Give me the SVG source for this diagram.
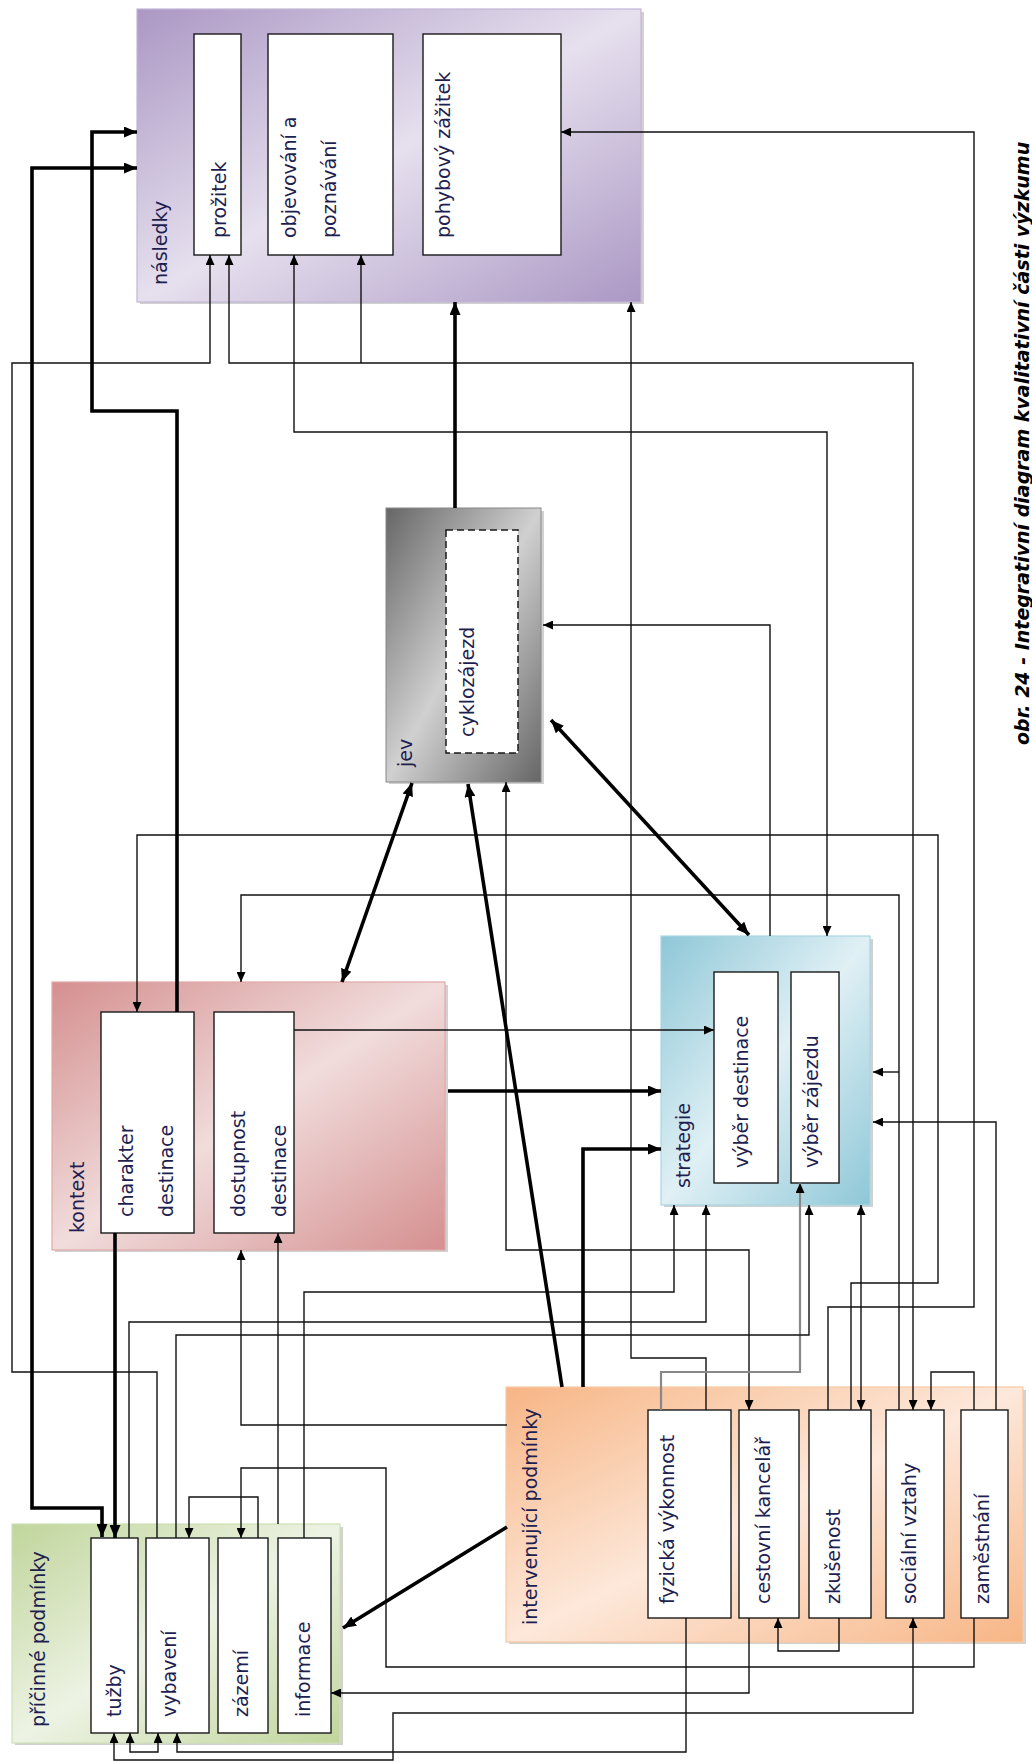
<svg xmlns="http://www.w3.org/2000/svg" width="1032" height="1762" viewBox="0 0 1032 1762">
<style>
.lbl{font-family:"DejaVu Sans","Verdana",sans-serif;font-size:19px;fill:#1e1e50}
.cap{font-family:"DejaVu Sans","Verdana",sans-serif;font-size:19px;font-weight:bold;font-style:italic;fill:#000}
.inner{fill:#fff;stroke:#1a1a1a;stroke-width:1.4}
.dash{fill:#fff;stroke:#1a1a1a;stroke-width:1.5;stroke-dasharray:7 4}
.sh{fill:#000;opacity:0.18}
.thin{fill:none;stroke:#111;stroke-width:1.4}
.thick{fill:none;stroke:#000;stroke-width:3.6}
.gray{fill:none;stroke:#888;stroke-width:2.2}
</style>
<defs>
<linearGradient id="gPur" x1="0" y1="0" x2="1" y2="1"><stop offset="0" stop-color="#ab97c4"/><stop offset="0.5" stop-color="#e6e0ee"/><stop offset="1" stop-color="#ab97c4"/></linearGradient>
<linearGradient id="gRed" x1="0" y1="0" x2="1" y2="1"><stop offset="0" stop-color="#d58f8f"/><stop offset="0.5" stop-color="#f1dcdc"/><stop offset="1" stop-color="#d58f8f"/></linearGradient>
<linearGradient id="gBlu" x1="0" y1="0" x2="1" y2="1"><stop offset="0" stop-color="#8ec7d7"/><stop offset="0.5" stop-color="#e0f0f5"/><stop offset="1" stop-color="#8ec7d7"/></linearGradient>
<linearGradient id="gGry" x1="0" y1="0" x2="1" y2="1"><stop offset="0" stop-color="#666"/><stop offset="0.5" stop-color="#d0d0d0"/><stop offset="1" stop-color="#666"/></linearGradient>
<linearGradient id="gOra" x1="0" y1="0" x2="1" y2="1"><stop offset="0" stop-color="#f7b585"/><stop offset="0.5" stop-color="#fde8da"/><stop offset="1" stop-color="#f7b585"/></linearGradient>
<linearGradient id="gGrn" x1="0" y1="0" x2="1" y2="1"><stop offset="0" stop-color="#c0d59b"/><stop offset="0.5" stop-color="#edf3e4"/><stop offset="1" stop-color="#c0d59b"/></linearGradient>
<marker id="ah" viewBox="0 0 10 9" refX="10" refY="4.5" markerWidth="10" markerHeight="9" markerUnits="userSpaceOnUse" orient="auto-start-reverse"><path d="M0,0L10,4.5L0,9z" fill="#000"/></marker>
<marker id="AH" viewBox="0 0 13 11" refX="13" refY="5.5" markerWidth="13" markerHeight="11" markerUnits="userSpaceOnUse" orient="auto-start-reverse"><path d="M0,0L13,5.5L0,11z" fill="#000"/></marker>
</defs>
<rect width="1032" height="1762" fill="#fff"/>

<g id="nasledky">
<rect class="sh" x="140" y="12" width="504" height="292"/>
<rect x="137" y="9" width="504" height="293" fill="url(#gPur)" stroke="#c2b6d6" stroke-width="1.2"/>
<text class="lbl" transform="translate(167,285) rotate(-90)">následky</text>
<rect class="inner" x="194" y="34" width="47" height="221"/>
<text class="lbl" transform="translate(226,238) rotate(-90)">prožitek</text>
<rect class="inner" x="268" y="34" width="125" height="221"/>
<text class="lbl" transform="translate(296,238) rotate(-90)">objevování a</text>
<text class="lbl" transform="translate(336,238) rotate(-90)">poznávání</text>
<rect class="inner" x="423" y="34" width="138" height="221"/>
<text class="lbl" transform="translate(450,238) rotate(-90)">pohybový zážitek</text>
</g>

<g id="jev">
<rect class="sh" x="389" y="511" width="155" height="273"/>
<rect x="386" y="508" width="155" height="274" fill="url(#gGry)" stroke="#888" stroke-width="1"/>
<text class="lbl" transform="translate(412,767) rotate(-90)">jev</text>
<rect class="dash" x="446" y="530" width="72" height="223"/>
<text class="lbl" transform="translate(474,737) rotate(-90)">cyklozájezd</text>
</g>

<g id="kontext">
<rect class="sh" x="55" y="985" width="393" height="267"/>
<rect x="52" y="982" width="393" height="268" fill="url(#gRed)" stroke="#e0a8a8" stroke-width="1.2"/>
<text class="lbl" transform="translate(84,1233) rotate(-90)">kontext</text>
<rect class="inner" x="101" y="1012" width="93" height="221"/>
<text class="lbl" transform="translate(133,1217) rotate(-90)">charakter</text>
<text class="lbl" transform="translate(173,1217) rotate(-90)">destinace</text>
<rect class="inner" x="214" y="1012" width="80" height="221"/>
<text class="lbl" transform="translate(245,1217) rotate(-90)">dostupnost</text>
<text class="lbl" transform="translate(286,1217) rotate(-90)">destinace</text>
</g>

<g id="strategie">
<rect class="sh" x="664" y="939" width="209" height="268"/>
<rect x="661" y="936" width="209" height="269" fill="url(#gBlu)" stroke="#a9d6e2" stroke-width="1.2"/>
<text class="lbl" transform="translate(690,1188) rotate(-90)">strategie</text>
<rect class="inner" x="714" y="972" width="64" height="211"/>
<text class="lbl" transform="translate(748,1168) rotate(-90)">výběr destinace</text>
<rect class="inner" x="791" y="972" width="48" height="211"/>
<text class="lbl" transform="translate(818,1168) rotate(-90)">výběr zájezdu</text>
</g>

<g id="intervenujici">
<rect class="sh" x="509" y="1390" width="517" height="254"/>
<rect x="506" y="1387" width="517" height="255" fill="url(#gOra)" stroke="#f9c9a4" stroke-width="1.2"/>
<text class="lbl" transform="translate(537,1625) rotate(-90)">intervenující podmínky</text>
<rect class="inner" x="648" y="1410" width="83" height="208"/>
<text class="lbl" transform="translate(674,1604) rotate(-90)">fyzická výkonnost</text>
<rect class="inner" x="739" y="1410" width="60" height="208"/>
<text class="lbl" transform="translate(770,1604) rotate(-90)">cestovní kancelář</text>
<rect class="inner" x="809" y="1410" width="62" height="208"/>
<text class="lbl" transform="translate(840,1604) rotate(-90)">zkušenost</text>
<rect class="inner" x="886" y="1410" width="58" height="208"/>
<text class="lbl" transform="translate(916,1604) rotate(-90)">sociální vztahy</text>
<rect class="inner" x="961" y="1410" width="47" height="208"/>
<text class="lbl" transform="translate(989,1604) rotate(-90)">zaměstnání</text>
</g>

<g id="pricinne">
<rect class="sh" x="15" y="1527" width="328" height="218"/>
<rect x="12" y="1524" width="328" height="219" fill="url(#gGrn)" stroke="#cfe0b4" stroke-width="1.2"/>
<text class="lbl" transform="translate(45,1727) rotate(-90)">příčinné podmínky</text>
<rect class="inner" x="91" y="1538" width="47" height="195"/>
<text class="lbl" transform="translate(121,1717) rotate(-90)">tužby</text>
<rect class="inner" x="146" y="1538" width="63" height="195"/>
<text class="lbl" transform="translate(176,1717) rotate(-90)">vybavení</text>
<rect class="inner" x="218" y="1538" width="50" height="195"/>
<text class="lbl" transform="translate(248,1717) rotate(-90)">zázemí</text>
<rect class="inner" x="278" y="1538" width="53" height="195"/>
<text class="lbl" transform="translate(310,1717) rotate(-90)">informace</text>
</g>

<g id="connectors">
<path class="thin" d="M157,1538V1372H12V363H210V255" marker-end="url(#ah)"/>
<path class="thin" d="M229,255V363H913V1410" marker-start="url(#ah)" marker-end="url(#ah)"/>
<path class="thin" d="M361,363V255" marker-end="url(#ah)"/>
<path class="thin" d="M294,255V432H827V936" marker-start="url(#ah)" marker-end="url(#ah)"/>
<path class="thin" d="M706,1410V1358H631V302" marker-end="url(#ah)"/>
<path class="thin" d="M828,1410V1307H974V132H561" marker-end="url(#ah)"/>
<path class="thin" d="M770,936V625H543" marker-end="url(#ah)"/>
<path class="thin" d="M749,1410V1250H506V782" marker-start="url(#ah)" marker-end="url(#ah)"/>
<path class="thin" d="M294,1030H714" marker-end="url(#ah)"/>
<path class="thin" d="M899,1410V895H241V982" marker-end="url(#ah)"/>
<path class="thin" d="M899,1072H873" marker-end="url(#ah)"/>
<path class="thin" d="M996,1410V1122H873" marker-end="url(#ah)"/>
<path class="thin" d="M851,1410V1283H938V835H137V1012" marker-end="url(#ah)"/>
<path class="thin" d="M861,1205V1410" marker-start="url(#ah)" marker-end="url(#ah)"/>
<path class="thin" d="M974,1410V1372H931V1410" marker-end="url(#ah)"/>
<path class="gray" d="M661,1410V1372H800V1183" marker-end="url(#ah)"/>
<path class="thin" d="M129,1538V1322H706V1205" marker-end="url(#ah)"/>
<path class="thin" d="M176,1538V1335H809V1205" marker-end="url(#ah)"/>
<path class="thin" d="M304,1538V1292H674V1205" marker-end="url(#ah)"/>
<path class="thin" d="M507,1425H241V1250" marker-end="url(#ah)"/>
<path class="thin" d="M278,1524V1233" marker-end="url(#ah)"/>
<path class="thin" d="M974,1618V1667H386V1468H241V1538" marker-end="url(#ah)"/>
<path class="thin" d="M258,1538V1497H189V1538" marker-end="url(#ah)"/>
<path class="thin" d="M749,1618V1693H331" marker-end="url(#ah)"/>
<path class="thin" d="M839,1618V1651H778V1618" marker-end="url(#ah)"/>
<path class="thin" d="M913,1618V1713H393V1760H114V1733" marker-start="url(#ah)" marker-end="url(#ah)"/>
<path class="thin" d="M686,1618V1752H177V1733" marker-end="url(#ah)"/>
<path class="thin" d="M130,1733V1752H158V1733" marker-start="url(#ah)" marker-end="url(#ah)"/>
<path class="thick" d="M455,508V302" marker-end="url(#AH)"/>
<path class="thick" d="M177,1012V411H92V132H137" marker-end="url(#AH)"/>
<path class="thick" d="M102,1537V1508H32V168H137" marker-start="url(#AH)" marker-end="url(#AH)"/>
<path class="thick" d="M551,720L749,935" marker-start="url(#AH)" marker-end="url(#AH)"/>
<path class="thick" d="M412,783L342,982" marker-start="url(#AH)" marker-end="url(#AH)"/>
<path class="thick" d="M562,1387L468,784" marker-end="url(#AH)"/>
<path class="thick" d="M583,1387V1149H661" marker-end="url(#AH)"/>
<path class="thick" d="M448,1091H661" marker-end="url(#AH)"/>
<path class="thick" d="M507,1527L343,1628" marker-end="url(#AH)"/>
<path class="thick" d="M115,1233V1538" marker-end="url(#AH)"/>
</g>

<text class="cap" transform="translate(1029,745) rotate(-90)">obr. 24 - Integrativní diagram kvalitativní části výzkumu</text>
</svg>
